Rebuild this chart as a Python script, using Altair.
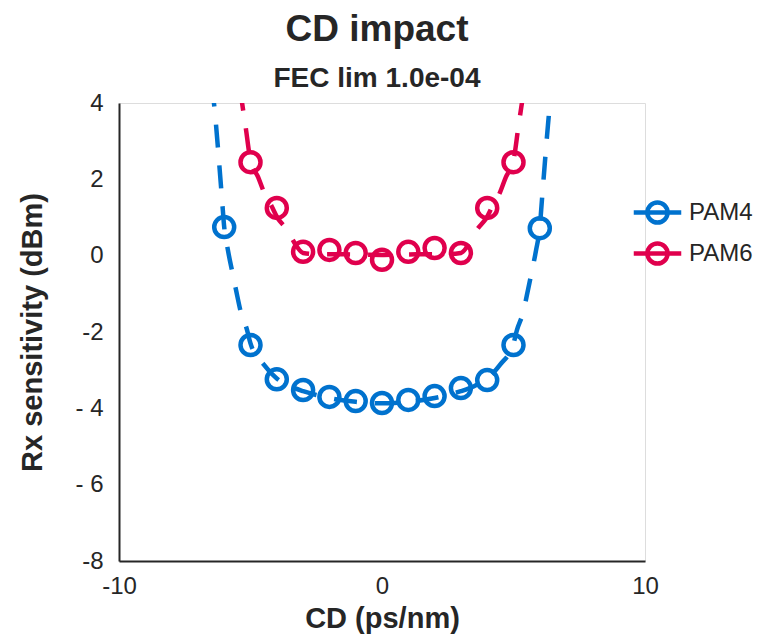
import altair as alt
import pandas as pd

# measured points
cd_pam4 = [-6, -5, -4, -3, -2, -1, 0, 1, 2, 3, 4, 5, 6]
rx_pam4 = [0.75, -2.34, -3.24, -3.52, -3.70, -3.81, -3.86, -3.78, -3.68, -3.47, -3.26, -2.34, 0.72]
cd_pam6 = [-5, -4, -3, -2, -1, 0, 1, 2, 3, 4, 5]
rx_pam6 = [2.45, 1.25, 0.10, 0.15, 0.07, -0.11, 0.10, 0.20, 0.07, 1.25, 2.45]

# fitted curves
fit4_cd = [-6.5, -6.39, -6.31, -6.2, -6.08, -6.0, -5.86, -5.67, -5.55, -5.36, -5.13, -5.0, -4.5, -4.0, -3.5, -3.0, -2.5, -2.0, -1.0, 0,
           1.0, 2.0, 2.5, 3.0, 3.5, 4.0, 4.5, 5.0, 5.13, 5.36, 5.55, 5.67, 5.86, 6.0, 6.08, 6.2, 6.31, 6.39, 6.5]
fit4_rx = [4.5, 4.0, 3.42, 2.5, 1.45, 0.75, 0.15, -0.5, -0.9, -1.5, -1.95, -2.3, -2.85, -3.22, -3.42, -3.55, -3.65, -3.73, -3.83, -3.87,
           -3.83, -3.73, -3.65, -3.55, -3.42, -3.22, -2.85, -2.3, -1.95, -1.5, -0.9, -0.5, 0.15, 0.75, 1.45, 2.5, 3.42, 4.0, 4.5]
fit6_cd = [-5.4, -5.32, -5.19, -5.0, -4.71, -4.45, -4.2, -3.99, -3.6, -3.23, -3.0, -2.5, -2.0, -1.0, 0,
           1.0, 2.0, 2.5, 3.0, 3.23, 3.6, 3.99, 4.2, 4.45, 4.71, 5.0, 5.19, 5.32, 5.4]
fit6_rx = [4.4, 4.0, 3.4, 2.5, 2.06, 1.6, 1.3, 1.01, 0.67, 0.23, 0.07, 0.04, 0.04, 0.03, 0.02,
           0.03, 0.04, 0.04, 0.07, 0.23, 0.67, 1.01, 1.3, 1.6, 2.06, 2.5, 3.4, 4.0, 4.4]

series = ["PAM4", "PAM6"]
colors = ["#0072ce", "#e0004d"]
y_ticks = [4, 2, 0, -2, -4, -6, -8]
x_ticks = [-10, 0, 10]

pts = pd.DataFrame({
    "cd": cd_pam4 + cd_pam6,
    "rx": rx_pam4 + rx_pam6,
    "mod": ["PAM4"] * len(cd_pam4) + ["PAM6"] * len(cd_pam6),
})
fits = pd.DataFrame({
    "cd": fit4_cd + fit6_cd,
    "rx": fit4_rx + fit6_rx,
    "mod": ["PAM4"] * len(fit4_cd) + ["PAM6"] * len(fit6_cd),
})

TXT = "#262626"
FONT = "Liberation Sans"

xs = alt.X("cd:Q", scale=alt.Scale(domain=[-10, 10], nice=False),
           axis=alt.Axis(values=x_ticks, title="CD (ps/nm)", grid=False, ticks=False,
                         domainColor=TXT, domainWidth=2, labelFontSize=24, labelColor=TXT,
                         labelFont=FONT, labelPadding=13, labelFlush=False,
                         labelExpr="'' + datum.value",
                         titleFont=FONT, titleFontSize=29,
                         titleFontWeight="bold", titleColor=TXT, titlePadding=6))
ys = alt.Y("rx:Q", scale=alt.Scale(domain=[-8, 4], nice=False),
           axis=alt.Axis(values=y_ticks, title="Rx sensitivity (dBm)", grid=False, ticks=False,
                         domainColor=TXT, domainWidth=2, labelFontSize=24, labelColor=TXT,
                         labelFont=FONT, labelPadding=16, labelFlush=False,
                         labelExpr="datum.value == -4 || datum.value == -6 ? '- ' + abs(datum.value) : '' + datum.value",
                         titleFont=FONT, titleFontSize=29, titleFontWeight="bold", titleColor=TXT,
                         titlePadding=27))

color = alt.Color("mod:N", scale=alt.Scale(domain=series, range=colors),
                  legend=alt.Legend(title=None, orient="none", legendX=517, legendY=88,
                                    symbolType="M-1.25,0H1.25M-0.53,0A0.53,0.53,0,1,1,0.53,0A0.53,0.53,0,1,1,-0.53,0Z",
                                    symbolSize=1444, symbolStrokeWidth=4.5, symbolFillColor="transparent",
                                    labelFontSize=24, labelFont=FONT, labelColor=TXT, labelOffset=10,
                                    rowPadding=0, padding=0))

lines = alt.Chart(fits).mark_line(strokeWidth=4.5, strokeDash=[23, 18], clip=True,
                                  interpolate="monotone").encode(
    x=xs, y=ys, color=color, detail="mod:N")
points = alt.Chart(pts).mark_point(shape="circle", size=400, strokeWidth=4.5, filled=False,
                                   opacity=1).encode(x=xs, y=ys, color=color)

chart = alt.layer(lines, points).properties(
    width=526, height=458,
    autosize=alt.AutoSizeParams(type="none"),
    padding={"left": 111, "top": 95, "right": 114, "bottom": 74},
    title=alt.TitleParams(text="CD impact", subtitle="FEC lim 1.0e-04", font=FONT, fontSize=37,
                          fontWeight="bold", color=TXT, subtitleFont=FONT, subtitleFontSize=28,
                          subtitleFontWeight="bold", subtitleColor=TXT, subtitlePadding=16,
                          anchor="middle", offset=-3, dx=-5),
).configure_view(strokeWidth=0, stroke="transparent").configure(background="white")

chart.save("out.html", embed_options={"renderer": "svg", "actions": False})
